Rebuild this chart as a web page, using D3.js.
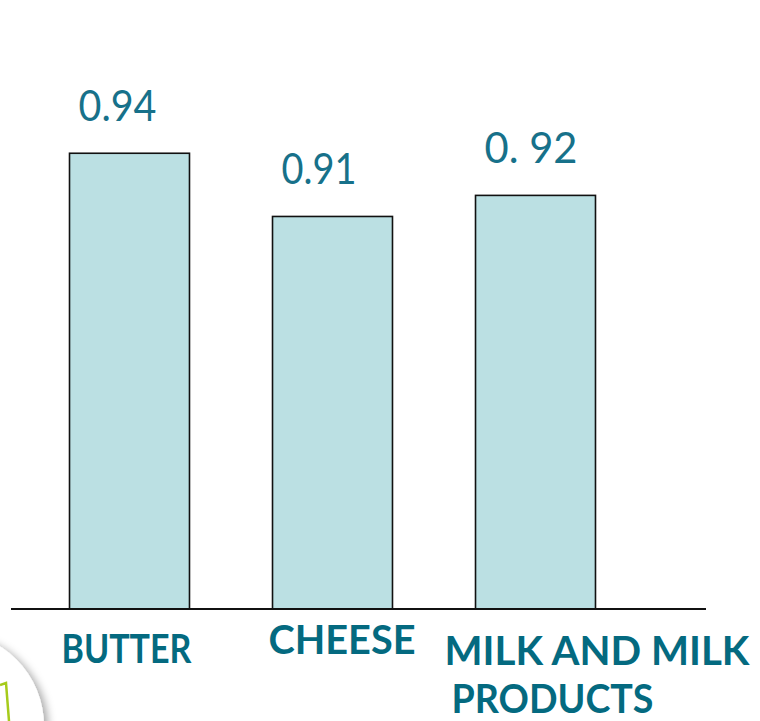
<!DOCTYPE html>
<html>
<head>
<meta charset="utf-8">
<script src="https://cdn.jsdelivr.net/npm/d3@7"></script>
<style>
  html, body { margin: 0; padding: 0; background: #ffffff; }
  svg { display: block; }
</style>
</head>
<body>
<script>
// ---- data ----
const categories = ["BUTTER", "CHEESE", "MILK AND MILK PRODUCTS"];
const categoryLines = [["BUTTER"], ["CHEESE"], ["MILK AND MILK", "PRODUCTS"]];
const values = [0.94, 0.91, 0.92];
const valueLabels = ["0.94", "0.91", "0. 92"];

// ---- layout ----
const W = 760, H = 721;
const baseY = 609;
const svg = d3.select("body").append("svg").attr("width", W).attr("height", H);

const defs = svg.append("defs");
const f = defs.append("filter").attr("id", "shadow").attr("x", "-50%").attr("y", "-50%").attr("width", "200%").attr("height", "200%");
f.append("feDropShadow").attr("dx", 4).attr("dy", 3).attr("stdDeviation", 4)
  .attr("flood-color", "#000").attr("flood-opacity", 0.35);

// decorative slide element (bottom-left)
svg.append("circle").attr("cx", -50).attr("cy", 726).attr("r", 94)
  .attr("fill", "#ffffff").attr("filter", "url(#shadow)");
svg.append("polyline")
  .attr("points", "0,685 6,683 9,721")
  .attr("fill", "none").attr("stroke", "#A6CB1B").attr("stroke-width", 2.5);

const x = d3.scaleBand().domain(categories).range([28, 637]).paddingInner(0.409).paddingOuter(0.2045);
const y = d3.scaleLinear().domain([0.7237, 1]).range([baseY, baseY - 2107 * (1 - 0.7237)]);

// bars
svg.append("g").selectAll("rect").data(values).join("rect")
  .attr("x", (d, i) => x(categories[i]))
  .attr("y", d => y(d))
  .attr("width", x.bandwidth())
  .attr("height", d => baseY - y(d))
  .attr("fill", "#BBE0E3")
  .attr("stroke", "#111")
  .attr("stroke-width", 1.6);

// baseline
svg.append("line").attr("x1", 11).attr("x2", 706).attr("y1", baseY).attr("y2", baseY)
  .attr("stroke", "#111").attr("stroke-width", 2.2);

// value labels
const valueWidths = [78, 75, 93];
svg.append("g").selectAll("text").data(values).join("text")
  .attr("x", (d, i) => x(categories[i]) + 9)
  .attr("y", d => y(d) - 32)
  .attr("font-family", "Lato, 'Open Sans', sans-serif")
  .attr("font-size", 42)
  .attr("font-weight", 400)
  .attr("fill", "#17718A")
  .attr("textLength", (d, i) => valueWidths[i])
  .attr("lengthAdjust", "spacingAndGlyphs")
  .text((d, i) => valueLabels[i]);

// category labels
const catDx = [-8, -4, -31];
const catDy = [54, 45, 56];
const catWidths = [[130], [147], [305, 202]];
const catLineDx = [[0], [0], [0, 7]];
const cg = svg.append("g");
categories.forEach((c, i) => {
  categoryLines[i].forEach((line, j) => {
    cg.append("text")
      .attr("x", x(c) + catDx[i] + catLineDx[i][j])
      .attr("y", baseY + catDy[i] + j * 48)
      .attr("font-family", "Lato, 'Open Sans', sans-serif")
      .attr("font-size", 41)
      .attr("font-weight", 700)
      .attr("fill", "#046A80")
      .attr("textLength", catWidths[i][j])
      .attr("lengthAdjust", "spacingAndGlyphs")
      .text(line);
  });
});
</script>
</body>
</html>
